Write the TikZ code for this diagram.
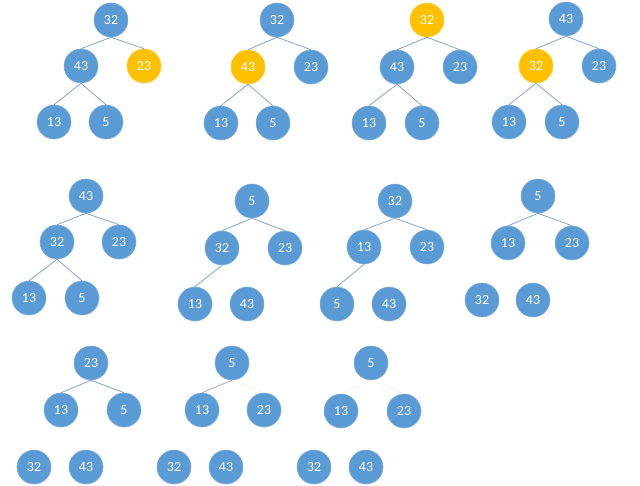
\documentclass[tikz,border=0pt]{standalone}
\usepackage{fontspec}
\setmainfont{Carlito}
\definecolor{heapblue}{HTML}{5B9BD5}
\definecolor{heapgold}{HTML}{FFC000}
\definecolor{heapline}{HTML}{7FA7D3}
\definecolor{heapgone}{HTML}{A9A3D8}
\definecolor{heapghost}{HTML}{FBEFE4}
\tikzset{
  key/.style={circle,minimum size=34bp,inner sep=0pt,fill=heapblue,draw=heapblue!80!white,
    line width=0.6bp,text=white,font=\fontsize{14}{16}\selectfont},
  hot/.style={key,fill=heapgold,draw=heapgold!80!white},
  edge/.style={draw=heapline,line width=0.8bp},
  gone/.style={draw=heapgone,line width=0.8bp},
  ghost/.style={draw=heapghost,line width=0.8bp}
}

\begin{document}
\begin{tikzpicture}[x=1bp,y=-1bp]
\path (0,0) rectangle (640,486);
% row 1
\node[key] (a1) at (111,20) {32};
\node[key] (a2) at (81,66) {43};
\node[hot] (a3) at (144,66) {23};
\node[key] (a4) at (54,122) {13};
\node[key] (a5) at (106,122) {5};
\draw[edge] (a1.south) -- (a2.north);
\draw[edge] (a1.south) -- (a3.north);
\draw[edge] (a2.south) -- (a4.north);
\draw[edge] (a2.south) -- (a5.north);
\node[key] (b1) at (277,20) {32};
\node[hot] (b2) at (248,67) {43};
\node[key] (b3) at (311,67) {23};
\node[key] (b4) at (221,123) {13};
\node[key] (b5) at (273,123) {5};
\draw[edge] (b1.south) -- (b2.north);
\draw[edge] (b1.south) -- (b3.north);
\draw[edge] (b2.south) -- (b4.north);
\draw[edge] (b2.south) -- (b5.north);
\node[hot] (c1) at (427,20) {32};
\node[key] (c2) at (397,67) {43};
\node[key] (c3) at (460,67) {23};
\node[key] (c4) at (369,123) {13};
\node[key] (c5) at (422,123) {5};
\draw[edge] (c1.south) -- (c2.north);
\draw[edge] (c1.south) -- (c3.north);
\draw[edge] (c2.south) -- (c4.north);
\draw[edge] (c2.south) -- (c5.north);
\node[key] (d1) at (566,19) {43};
\node[hot] (d2) at (536,66) {32};
\node[key] (d3) at (599,66) {23};
\node[key] (d4) at (509,122) {13};
\node[key] (d5) at (562,122) {5};
\draw[edge] (d1.south) -- (d2.north);
\draw[edge] (d1.south) -- (d3.north);
\draw[edge] (d2.south) -- (d4.north);
\draw[edge] (d2.south) -- (d5.north);
% row 2
\node[key] (e1) at (86,196) {43};
\node[key] (e2) at (57,242) {32};
\node[key] (e3) at (119,242) {23};
\node[key] (e4) at (29,298) {13};
\node[key] (e5) at (82,298) {5};
\draw[edge] (e1.south) -- (e2.north);
\draw[edge] (e1.south) -- (e3.north);
\draw[edge] (e2.south) -- (e4.north);
\draw[edge] (e2.south) -- (e5.north);
\node[key] (f1) at (252,201) {5};
\node[key] (f2) at (222,248) {32};
\node[key] (f3) at (285,248) {23};
\node[key] (f4) at (195,304) {13};
\node[key] (f5) at (247,304) {43};
\draw[edge] (f1.south) -- (f2.north);
\draw[edge] (f1.south) -- (f3.north);
\draw[edge] (f2.south) -- (f4.north);
\node[key] (g1) at (395,201) {32};
\node[key] (g2) at (364,247) {13};
\node[key] (g3) at (427,247) {23};
\node[key] (g4) at (337,304) {5};
\node[key] (g5) at (389,304) {43};
\draw[edge] (g1.south) -- (g2.north);
\draw[edge] (g1.south) -- (g3.north);
\draw[edge] (g2.south) -- (g4.north);
\node[key] (h1) at (538,196) {5};
\node[key] (h2) at (508,243) {13};
\node[key] (h3) at (572,243) {23};
\node[key] (h4) at (482,300) {32};
\node[key] (h5) at (533,300) {43};
\draw[edge] (h1.south) -- (h2.north);
\draw[edge] (h1.south) -- (h3.north);
% row 3
\node[key] (i1) at (91,363) {23};
\node[key] (i2) at (61,410) {13};
\node[key] (i3) at (124,410) {5};
\node[key] (i4) at (34,467) {32};
\node[key] (i5) at (86,467) {43};
\draw[edge] (i1.south) -- (i2.north);
\draw[edge] (i1.south) -- (i3.north);
\node[key] (j1) at (232,363) {5};
\node[key] (j2) at (202,410) {13};
\node[key] (j3) at (264,410) {23};
\node[key] (j4) at (174,467) {32};
\node[key] (j5) at (226,467) {43};
\draw[gone] (j1.south) -- (j2.north);
\draw[ghost] (j1.south) -- (j3.north);
\node[key] (k1) at (371,363) {5};
\node[key] (k2) at (341,411) {13};
\node[key] (k3) at (404,411) {23};
\node[key] (k4) at (314,467) {32};
\node[key] (k5) at (366,467) {43};
\draw[ghost] (k1.south) -- (k2.north);
\draw[ghost] (k1.south) -- (k3.north);
\end{tikzpicture}
\end{document}
